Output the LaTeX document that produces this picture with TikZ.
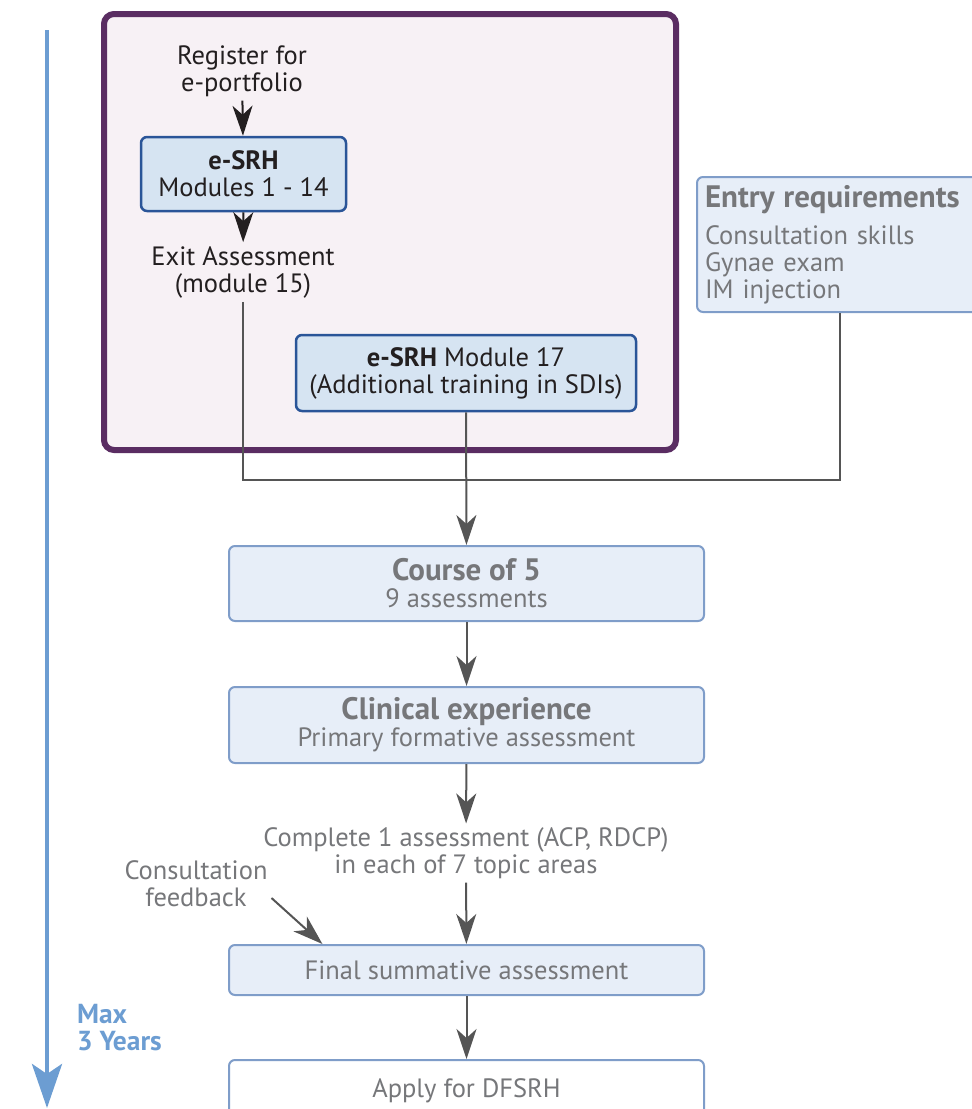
\documentclass[tikz,border=0pt]{standalone}
\usepackage{fontspec}
\setmainfont{PT Sans}
\usetikzlibrary{arrows.meta,calc}

\definecolor{ink}{HTML}{231F20}
\definecolor{greytext}{HTML}{76777A}
\definecolor{framepurple}{HTML}{5A2D62}
\definecolor{framefill}{HTML}{F7F1F5}
\definecolor{darkedge}{HTML}{2A5598}
\definecolor{darkfill}{HTML}{D6E4F2}
\definecolor{lightedge}{HTML}{7F9DC9}
\definecolor{lightfill}{HTML}{E7EEF8}
\definecolor{axisblue}{HTML}{6C9DD2}
\definecolor{linkgrey}{HTML}{555555}

\newcommand\boxhead[1]{{\fontsize{31}{27}\selectfont\bfseries #1}}

\begin{document}
\begin{tikzpicture}[x=1pt,y=-1pt,line width=2pt,
  >={Stealth[length=30pt,width=20pt,inset=9pt]},
  txt/.style={font=\fontsize{26.5}{27}\selectfont,align=center,inner sep=3pt},
  darkbox/.style={txt,draw=darkedge,fill=darkfill,line width=2.5pt,
    rounded corners=6pt,text=ink,inner sep=0pt},
  lightbox/.style={txt,draw=lightedge,fill=lightfill,line width=2pt,
    rounded corners=6pt,text=greytext,inner sep=0pt,minimum width=475pt},
  link/.style={draw=linkgrey,line width=2pt},
  blacklink/.style={draw=ink,line width=2pt}]

\useasboundingbox (0,0) rectangle (972,1109);

% time axis
\draw[axisblue,line width=4.5pt,-{Stealth[length=44pt,width=30pt,inset=10pt]}] (47,30) -- (47,1108);
\node[txt,anchor=west,align=left,text=axisblue,font=\fontsize{27.5}{27}\selectfont\bfseries] (maxlabel) at (73,1028) {Max\\3 Years};

% e-SRH frame
\draw[framepurple,fill=framefill,line width=6pt,rounded corners=10pt] (104,14) rectangle (676,450);

\node[txt,text=ink] (reg) at (242,71) {Register for\\e-portfolio};
\node[darkbox,minimum width=205pt,minimum height=74pt] (esrh) at (243.5,174)
  {\textbf{e-SRH}\\Modules 1 - 14};
\node[txt,text=ink] (exit) at (243,272) {Exit Assessment\\(module 15)};
\node[darkbox,minimum width=340pt,minimum height=76pt] (mod17) at (466,373)
  {\textbf{e-SRH} Module 17\\(Additional training in SDIs)};

\draw[blacklink,->] (reg) -- (esrh);
\draw[blacklink,->] (esrh) -- (exit);

% entry requirements
\node[lightbox,align=left,minimum width=286pt,minimum height=135pt,
  text width=270pt,inner xsep=8pt] (entry) at (840,244.5)
  {\boxhead{Entry requirements}\\[10pt]Consultation skills\\Gynae exam\\IM injection};

% main column
\node[lightbox,minimum height=75pt] (course) at (466.5,583.5)
  {\boxhead{Course of 5}\\9 assessments};
\node[lightbox,minimum height=76pt] (clinical) at (466.5,725)
  {\boxhead{Clinical experience}\\Primary formative assessment};
\node[txt,text=greytext] (complete) at (466,853)
  {Complete 1 assessment (ACP, RDCP)\\in each of 7 topic areas};
\node[txt,text=greytext] (feedback) at (196,884) {Consultation\\feedback};
\node[lightbox,minimum height=50pt] (final) at (466.5,970) {Final summative assessment};
\node[lightbox,fill=white,minimum height=62pt] (apply) at (466.5,1091) {Apply for DFSRH};

% connectors
\coordinate (join) at (466,480);
\draw[link] (exit.south) |- (join) -| (entry.south);
\draw[link,->] (mod17.south) -- (course.north);
\draw[link,->] (course) -- (clinical);
\draw[link,->] (clinical) -- (complete);
\draw[link,->] (complete) -- (final);
\draw[link,->] ($(feedback.east)+(0,14)$) -- ($(final.north west)!0.198!(final.north east)$);
\draw[link,->] (final) -- (apply);

\end{tikzpicture}
\end{document}
